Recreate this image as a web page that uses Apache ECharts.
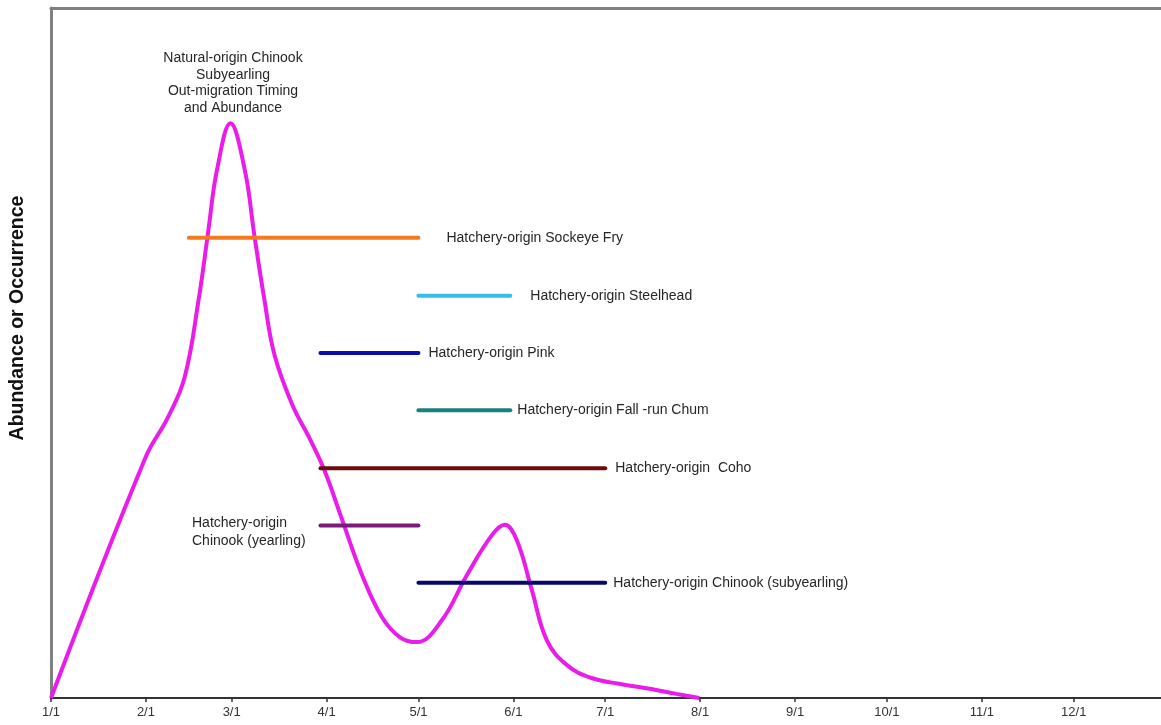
<!DOCTYPE html>
<html>
<head>
<meta charset="utf-8">
<script src="https://cdn.jsdelivr.net/npm/echarts@6/dist/echarts.min.js"></script>
<style>
html,body{margin:0;padding:0;background:#fff;}
#chart{width:1161px;height:725px;}
</style>
</head>
<body>
<div id="chart"></div>
<script>
// Month tick positions (day of year) and labels
var tickDays = [0, 31, 59, 90, 120, 151, 181, 212, 243, 273, 304, 334];
var tickLabels = ['1/1','2/1','3/1','4/1','5/1','6/1','7/1','8/1','9/1','10/1','11/1','12/1'];

// Natural-origin Chinook subyearling curve: [day of year, relative abundance]
var curveDays = [0, 30.9, 38.1, 43.6, 48.2, 51.4, 54.2, 58.6, 63.3, 66.4, 69.7, 73, 78.8, 84.7, 89.3, 95.1, 101.6, 108.1, 114, 119.5, 127.7, 135.8, 144, 148.2, 152.1, 157, 161.9, 168.4, 176.5, 186.3, 196, 204.2, 211.7];
var curveVals = [0, 34.9, 40.6, 46.4, 57.7, 67.8, 76.5, 83.3, 76.5, 67.1, 57.7, 49.7, 42.5, 37.4, 33, 25.8, 17.8, 11.7, 8.8, 8.1, 11.3, 17.8, 23.6, 25.1, 22.9, 15.7, 8.4, 4.8, 2.9, 2.0, 1.3, 0.6, 0];

// Hatchery release windows
var hatchNames = ['Hatchery-origin Sockeye Fry','Hatchery-origin Steelhead','Hatchery-origin Pink','Hatchery-origin Fall -run Chum','Hatchery-origin  Coho','Hatchery-origin\nChinook (yearling)','Hatchery-origin Chinook (subyearling)'];
var hatchStart = [45, 120, 88, 120, 88, 88, 120];
var hatchEnd   = [120, 150, 120, 150, 181, 120, 181];
var hatchLevel = [66.7, 58.3, 50, 41.7, 33.3, 25, 16.7];

var hatchColors = ['#f47a20','#33bfe6','#0a0ab4','#1a7f7f','#6e0b0b','#7b1a7b','#06066e'];
var labelDist = [28, 20, 10, 7, 10, 0, 8];

var font = 'Liberation Sans, Arial, sans-serif';
var series = [];
series.push({
  type: 'line',
  name: 'Natural-origin Chinook',
  data: curveDays.map(function(d, i){ return [d, curveVals[i]]; }),
  smooth: 0.4,
  symbol: 'none',
  lineStyle: {color: '#ea1cea', width: 4},
  z: 3
});
hatchNames.forEach(function(n, i){
  var s = {
    type: 'line',
    name: n,
    data: [[hatchStart[i], hatchLevel[i]], [hatchEnd[i], hatchLevel[i]]],
    symbol: 'none',
    lineStyle: {color: hatchColors[i], width: 4, cap: 'round'},
    z: 4
  };
  if (i !== 5) {
    s.endLabel = {show: true, formatter: n, distance: labelDist[i], color: '#262626', fontFamily: font, fontSize: 14};
  }
  series.push(s);
});

var chart = echarts.init(document.getElementById('chart'), null, {renderer: 'canvas'});
chart.setOption({
  animation: false,
  backgroundColor: '#fff',
  title: [
    {text: 'Natural-origin Chinook\nSubyearling\nOut-migration Timing\nand Abundance', left: 233, top: 50, textAlign: 'center', padding: 0,
     textStyle: {fontFamily: font, fontSize: 14, fontWeight: 'normal', color: '#262626', lineHeight: 16.5, align: 'center'}},
    {text: 'Hatchery-origin\nChinook (yearling)', left: 192, top: 514, padding: 0,
     textStyle: {fontFamily: font, fontSize: 14, fontWeight: 'normal', color: '#262626', lineHeight: 18}}
  ],
  grid: {left: 47, right: 0, top: 8, bottom: 27, containLabel: false},
  xAxis: [{
    type: 'value', min: 0, max: 362.5,
    axisLine: {show: true, lineStyle: {color: '#333', width: 2}},
    axisTick: {show: true, customValues: tickDays, length: 4, lineStyle: {color: '#333', width: 1.5}},
    axisLabel: {show: true, customValues: tickDays, margin: 8, fontFamily: font, fontSize: 13, color: '#333',
      formatter: function(v){ var k = tickDays.indexOf(Math.round(v)); return k >= 0 ? tickLabels[k] : ''; }},
    splitLine: {show: false}
  }, {
    type: 'value', min: 0, max: 362.5, position: 'top',
    axisLine: {show: true, lineStyle: {color: '#808080', width: 3}},
    axisTick: {show: false}, axisLabel: {show: false}, splitLine: {show: false}
  }],
  yAxis: {
    type: 'value', min: 0, max: 100,
    name: 'Abundance or Occurrence', nameLocation: 'middle', nameGap: 23, nameRotate: 90,
    nameTextStyle: {fontFamily: font, fontSize: 19.5, fontWeight: 'bold', color: '#111', padding: [0, 0, 0, 70]},
    axisLine: {show: true, lineStyle: {color: '#808080', width: 3}},
    axisTick: {show: false}, axisLabel: {show: false}, splitLine: {show: false}
  },
  series: series
});
</script>
</body>
</html>
